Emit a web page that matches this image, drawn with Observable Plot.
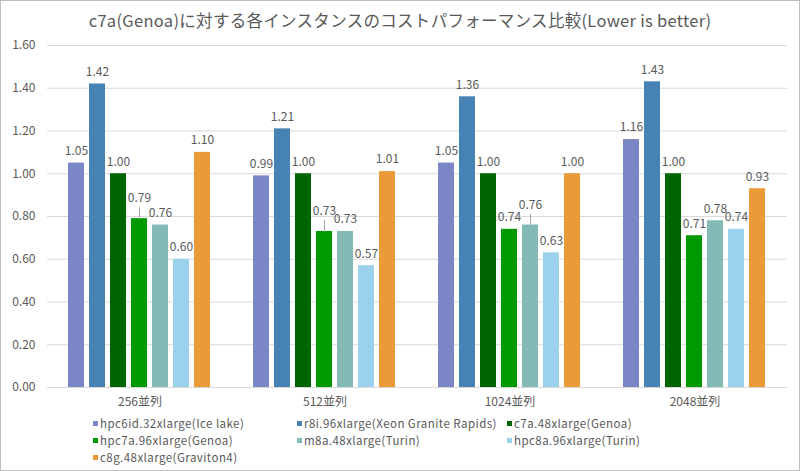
<!DOCTYPE html>
<html>
<head>
<meta charset="utf-8">
<script src="https://cdn.jsdelivr.net/npm/d3@7"></script>
<script src="https://cdn.jsdelivr.net/npm/@observablehq/plot@0.6"></script>
<style>
  body { margin: 0; background: #fff; }
  #wrap { position: relative; width: 800px; height: 471px; overflow: hidden; background: #fff;
          font-family: "Noto Sans CJK JP", "Noto Sans", sans-serif; color: #595959; }
  #border { position: absolute; left: 0; top: 0; width: 800px; height: 471px; box-sizing: border-box;
            border: 1px solid #bfbfbf; pointer-events: none; }
  #title { height: 34px; box-sizing: border-box; padding-top: 8px; line-height: 24px;
           text-align: center; font-size: 16.5px; letter-spacing: 0.3px; color: #595959; white-space: nowrap; }
  #legend { display: grid; grid-template-columns: 204px 210px auto; margin-left: 93px;
            font-size: 11.5px; letter-spacing: 0.45px; line-height: 17px; color: #595959; }
  .item { display: flex; align-items: center; white-space: nowrap; height: 17px; }
  .sw { width: 5px; height: 5px; margin-right: 2px; flex: none; }
</style>
</head>
<body>
<div id="wrap">
  <div id="title"></div>
  <div id="chart"></div>
  <div id="legend"></div>
  <div id="border"></div>
</div>
<script>
const titleText = "c7a(Genoa)に対する各インスタンスのコストパフォーマンス比較(Lower is better)";
const groups = ["256並列", "512並列", "1024並列", "2048並列"];
const series = [
  "hpc6id.32xlarge(Ice lake)",
  "r8i.96xlarge(Xeon Granite Rapids)",
  "c7a.48xlarge(Genoa)",
  "hpc7a.96xlarge(Genoa)",
  "m8a.48xlarge(Turin)",
  "hpc8a.96xlarge(Turin)",
  "c8g.48xlarge(Graviton4)"
];
const colors = ["#7a86c5", "#4682b4", "#006400", "#009a00", "#84bab6", "#9bd1ec", "#ea9a36"];
const hpc6idValues = [1.05, 0.99, 1.05, 1.16];
const r8iValues    = [1.42, 1.21, 1.36, 1.43];
const c7aValues    = [1.00, 1.00, 1.00, 1.00];
const hpc7aValues  = [0.79, 0.73, 0.74, 0.71];
const m8aValues    = [0.76, 0.73, 0.76, 0.78];
const hpc8aValues  = [0.60, 0.57, 0.63, 0.74];
const c8gValues    = [1.10, 1.01, 1.00, 0.93];
const yTicks = [0, 0.2, 0.4, 0.6, 0.8, 1.0, 1.2, 1.4, 1.6];
// labels drawn higher with a leader line: [group, series]
const leaderLabels = [
  ["256並列", "hpc7a.96xlarge(Genoa)"],
  ["512並列", "hpc7a.96xlarge(Genoa)"],
  ["1024並列", "m8a.48xlarge(Turin)"]
];

const seriesValues = [hpc6idValues, r8iValues, c7aValues, hpc7aValues, m8aValues, hpc8aValues, c8gValues];
const data = [];
groups.forEach((g, gi) => series.forEach((s, si) => data.push({group: g, series: s, value: seriesValues[si][gi]})));
const isLeader = d => leaderLabels.some(([g, s]) => g === d.group && s === d.series);
const normal = data.filter(d => !isLeader(d));
const lifted = data.filter(isLeader);
const fmt = d3.format(".2f");

document.getElementById("title").textContent = titleText;

const leaderShape = {
  draw(context, l) { context.moveTo(0, 0); context.lineTo(0, -l); }
};

const chart = Plot.plot({
  width: 800,
  height: 381,
  marginTop: 11,
  marginBottom: 28,
  marginLeft: 46,
  marginRight: 13,
  style: {fontFamily: '"Noto Sans CJK JP", "Noto Sans", sans-serif', fontSize: "12px", color: "#595959", background: "transparent"},
  fx: {domain: groups, padding: 0, label: null},
  x: {domain: series, paddingInner: 0.217, paddingOuter: 0.877, axis: null},
  y: {domain: [0, 1.6], axis: null, label: null},
  color: {domain: series, range: colors},
  marks: [
    Plot.gridY(yTicks, {stroke: "#d9d9d9", strokeOpacity: 1}),
    Plot.axisY(yTicks, {tickSize: 0, tickPadding: 12, tickFormat: fmt, fill: "#595959", fontSize: 12, label: null}),
    Plot.axisFx({anchor: "bottom", tickSize: 0, tickPadding: 10, label: null, fill: "#595959", fontSize: 12}),
    Plot.barY(data, {fx: "group", x: "series", y: "value", fill: "series"}),
    Plot.text(normal, {fx: "group", x: "series", y: "value", text: d => fmt(d.value), dy: -12, fill: "#595959", fontSize: 12}),
    Plot.text(lifted, {fx: "group", x: "series", y: "value", text: d => fmt(d.value), dy: -20, fill: "#595959", fontSize: 12}),
    Plot.vector(lifted, {fx: "group", x: "series", y: "value", length: 11, rotate: 0, anchor: "start", stroke: "#a6a6a6", strokeWidth: 1, shape: leaderShape})
  ]
});
document.getElementById("chart").appendChild(chart);

const legend = document.getElementById("legend");
series.forEach((s, i) => {
  const item = document.createElement("div");
  item.className = "item";
  const sw = document.createElement("span");
  sw.className = "sw";
  sw.style.background = colors[i];
  const t = document.createElement("span");
  t.textContent = s;
  item.appendChild(sw);
  item.appendChild(t);
  legend.appendChild(item);
});
</script>
</body>
</html>
